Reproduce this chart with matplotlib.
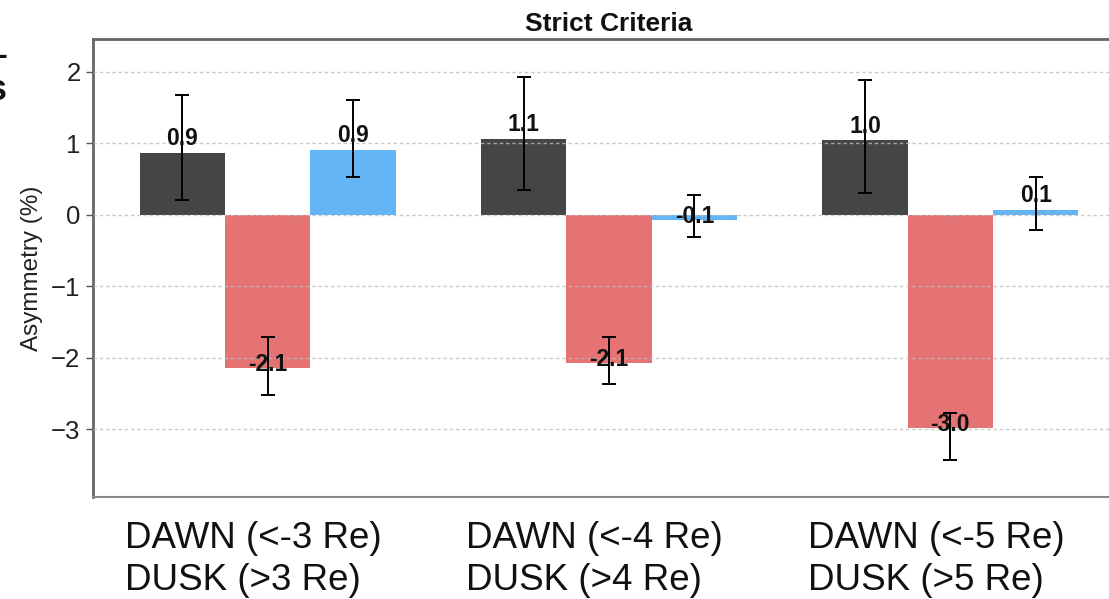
import matplotlib
matplotlib.use("Agg")
import matplotlib.pyplot as plt
import numpy as np

plt.rcParams['font.family'] = ['Liberation Sans', 'DejaVu Sans']

# Group labels (two lines each) and series
groups = ["DAWN (<-3 Re)\nDUSK (>3 Re)",
          "DAWN (<-4 Re)\nDUSK (>4 Re)",
          "DAWN (<-5 Re)\nDUSK (>5 Re)"]
series_names = ["total", "dawn", "dusk"]

# Asymmetry values (%) per series, one entry per group
total_vals = [0.87, 1.06, 1.04]
dawn_vals = [-2.14, -2.07, -2.99]
dusk_vals = [0.91, -0.07, 0.07]

# Confidence bounds (%) per series
total_low = [0.21, 0.34, 0.31]
total_high = [1.68, 1.93, 1.88]
dawn_low = [-2.52, -2.37, -3.43]
dawn_high = [-1.71, -1.71, -2.77]
dusk_low = [0.53, -0.31, -0.22]
dusk_high = [1.60, 0.27, 0.53]

colors = ["#454545", "#e57373", "#64b5f6"]

fig = plt.figure(figsize=(11.09, 5.99), dpi=100)
W, H = 1109, 599
ax = fig.add_axes([93 / W, (H - 497) / H, (1125 - 93) / W, (497 - 39) / H])

x = np.arange(len(groups))
width = 0.25
vals = [total_vals, dawn_vals, dusk_vals]
lows = [total_low, dawn_low, dusk_low]
highs = [total_high, dawn_high, dusk_high]

for i, (v, lo, hi, c) in enumerate(zip(vals, lows, highs, colors)):
    v = np.array(v)
    pos = x + (i - 1) * width
    ax.bar(pos, v, width, color=c, zorder=1)
    yerr = np.vstack([v - np.array(lo), np.array(hi) - v])
    ax.errorbar(pos, v, yerr=yerr, fmt='none', ecolor='black',
                elinewidth=1.4, capsize=5, capthick=1.4, zorder=4)
    for p, h in zip(pos, v):
        ty = h + 0.2 if h > 0 else h + 0.05
        ax.text(p, ty, f"{h:.1f}", ha='center', va='center',
                fontsize=16.5, fontweight='bold', color='#111111', zorder=5)

ax.set_xlim(-0.512, 2.512)
ax.set_ylim(-3.95, 2.46)
ax.set_yticks([-3, -2, -1, 0, 1, 2])
ax.set_xticks([])
ax.grid(axis='y', linestyle=(0, (2.5, 2)), color='#bdbdbd', linewidth=1.0,
        alpha=0.8, zorder=2)
ax.set_axisbelow(False)

ax.tick_params(axis='y', length=5, width=1, color='#555555',
               labelsize=18.5, pad=4, labelcolor='#222222')
ax.set_ylabel("Asymmetry (%)", fontsize=17.5, color='#222222', labelpad=6)
ax.set_title("Strict Criteria", fontsize=19, fontweight='bold', pad=6,
             color='#111111')

for side in ['left', 'top']:
    ax.spines[side].set_color('#666666')
    ax.spines[side].set_linewidth(2)
ax.spines['bottom'].set_color('#8a8a8a')
ax.spines['bottom'].set_linewidth(1.5)
ax.spines['right'].set_visible(False)

for g, lbl in zip(x, groups):
    ax.text(g - 0.418, -0.052, lbl, transform=ax.get_xaxis_transform(),
            ha='left', va='top', fontsize=26.5, linespacing=1.28,
            color='#111111')

# Fragment of adjacent text at the left border
fig.text(7 / W, 1 - 57 / H, "\u2013", ha='right', va='center',
         fontsize=24, fontweight='bold', color='#111111')
fig.text(7 / W, 1 - 100 / H, "s", ha='right', va='baseline',
         fontsize=26, fontweight='bold', color='#111111')

fig.savefig("out.png", dpi=100)
